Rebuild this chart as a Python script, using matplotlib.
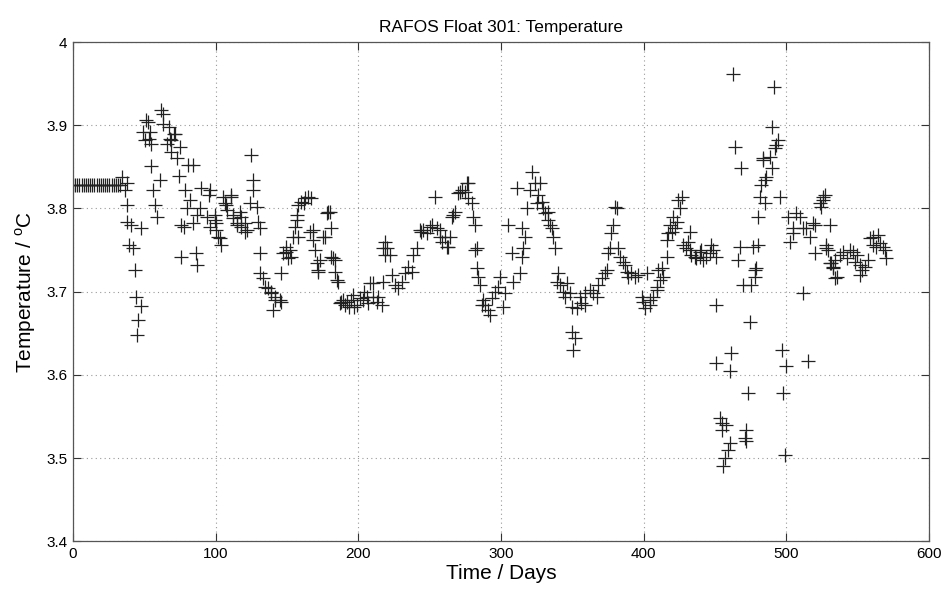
import numpy as np
import matplotlib
matplotlib.use("Agg")
import matplotlib.pyplot as plt
from matplotlib.ticker import FuncFormatter

#%% datos (dias, temperatura)
dias_ini = [0, 1.5, 3, 4.5, 6, 7.5, 9, 10.5, 12, 13.5, 15, 16.5, 18, 19.5, 21, 22.5,
            24, 25.5, 27, 28.5, 30, 31.5, 33]
temp_ini = [3.828, 3.828, 3.828, 3.828, 3.828, 3.828, 3.828, 3.828, 3.828, 3.828, 3.828,
            3.828, 3.828, 3.828, 3.828, 3.828, 3.828, 3.828, 3.828, 3.828, 3.828, 3.828, 3.828]

dias_1 = [34, 36.4, 37.6, 37.6, 38, 39.5, 41, 42, 43.5, 44, 45, 45.8, 47.4, 48, 49.3, 50.5,
          51.5, 52.8, 53, 54, 55, 55, 56, 57.5, 58.6, 61, 62, 63, 63, 65.6, 67, 68, 69, 69,
          70.5, 71.5, 72.6, 74.5, 75, 76, 76, 78, 78.5, 79.6, 80.8, 82, 84.3, 84.3, 86, 86.7,
          86.7, 89, 90, 93.6, 95, 96, 96, 99.5, 99.5, 100.5, 100.5, 101.8, 103, 104, 105,
          106.5, 107.5, 107.6, 111, 111, 112, 112.3, 114.7, 114.7, 117, 118, 118, 120.5,
          120.5, 121.7, 124, 125, 126, 126.3, 128.7, 130, 131, 131, 131, 133, 134.5, 137,
          139, 139, 140, 141.5, 141.5, 145, 146, 146, 147, 149.6, 149.6, 151, 152, 153,
          154.4, 155.5, 156.7, 157, 158, 158, 160, 161.7, 162.5, 165, 166, 167, 168.4,
          168.4, 169.6, 170.7, 172, 172, 173, 175.4, 176.6, 177.7, 178.5, 180, 181, 181,
          182.4, 183.6, 183.6, 184.7, 185.9]
temp_1 = [3.838, 3.822, 3.830, 3.804, 3.784, 3.756, 3.780, 3.752, 3.726, 3.694, 3.648, 3.666,
          3.683, 3.776, 3.892, 3.882, 3.906, 3.904, 3.884, 3.892, 3.878, 3.851, 3.822, 3.804,
          3.790, 3.834, 3.918, 3.914, 3.902, 3.878, 3.898, 3.884, 3.868, 3.882, 3.890, 3.890,
          3.860, 3.839, 3.874, 3.780, 3.742, 3.778, 3.822, 3.800, 3.852, 3.810, 3.852, 3.782,
          3.746, 3.732, 3.792, 3.800, 3.824, 3.790, 3.816, 3.822, 3.778, 3.786, 3.792, 3.774,
          3.782, 3.766, 3.764, 3.756, 3.814, 3.806, 3.804, 3.798, 3.814, 3.816, 3.792, 3.788,
          3.780, 3.782, 3.796, 3.790, 3.778, 3.782, 3.772, 3.774, 3.806, 3.864, 3.834, 3.822,
          3.802, 3.784, 3.776, 3.746, 3.722, 3.716, 3.706, 3.704, 3.698, 3.700, 3.678, 3.694,
          3.690, 3.690, 3.688, 3.722, 3.746, 3.754, 3.748, 3.740, 3.750, 3.742, 3.766, 3.778,
          3.786, 3.792, 3.804, 3.766, 3.808, 3.806, 3.812, 3.814, 3.772, 3.812, 3.774, 3.762,
          3.750, 3.734, 3.726, 3.724, 3.738, 3.766, 3.766, 3.794, 3.796, 3.796, 3.776, 3.742,
          3.740, 3.738, 3.724, 3.714, 3.712]

dias_2 = [187, 188, 189, 190.5, 192, 193.5, 195, 196.5, 197, 199, 201, 203, 204, 205.8, 207,
          208, 210.4, 210.4, 212.8, 214, 216.3, 217.5, 217.5, 218.6, 218.6, 219.8, 222, 223.3,
          225.6, 228, 230.3, 232.7, 235, 237.4, 238.5, 240.8, 243.2, 244, 245.5, 247.8, 250.2,
          251.4, 253.7, 254.8, 257, 257, 258.3, 260.7, 261.8, 263, 264.2, 265.4, 266.5, 267.7,
          270, 271, 272.4, 274.7, 275.9, 277, 277, 279.4, 280.5, 281.7, 281.7, 282.9, 282.9,
          284, 285.2, 286.4, 287.5, 288.7, 291, 292.2, 293.4, 295.7, 298, 299.2, 301.6, 302.7,
          305, 307.4, 308.6, 311, 313, 314.4, 314.4, 315.6, 316.7, 318, 320.3, 321.4, 323.8,
          325, 326, 327.3, 328.4, 329.5, 330.7, 333, 333, 334.3, 335.4, 336.6, 337.8, 339, 340,
          341.3, 343.6, 344.8, 346, 348.3, 349.5, 349.5, 350.6, 351.8, 353, 355.3, 356.4, 358.8,
          358.8, 362.3, 364.6, 367, 368.2, 370.5, 372.8, 374, 375.2, 376.3, 377.4, 378.6, 379.8,
          381, 382.2, 383.3, 385.6, 386.8, 388, 389, 391.4, 393.8, 396, 398.5, 399.7, 400.8, 402]
temp_2 = [3.686, 3.688, 3.690, 3.684, 3.688, 3.682, 3.690, 3.696, 3.682, 3.684, 3.692, 3.690,
          3.700, 3.694, 3.686, 3.710, 3.694, 3.710, 3.688, 3.694, 3.684, 3.712, 3.752, 3.760,
          3.744, 3.752, 3.744, 3.720, 3.708, 3.704, 3.712, 3.722, 3.730, 3.724, 3.744, 3.752,
          3.774, 3.772, 3.774, 3.770, 3.778, 3.780, 3.814, 3.776, 3.774, 3.766, 3.760, 3.766,
          3.754, 3.754, 3.766, 3.790, 3.792, 3.796, 3.818, 3.820, 3.822, 3.820, 3.830, 3.812,
          3.830, 3.806, 3.790, 3.780, 3.750, 3.752, 3.728, 3.718, 3.708, 3.684, 3.690, 3.684,
          3.678, 3.672, 3.692, 3.700, 3.706, 3.718, 3.682, 3.698, 3.780, 3.746, 3.712, 3.824,
          3.722, 3.776, 3.742, 3.752, 3.766, 3.800, 3.822, 3.844, 3.830, 3.806, 3.816, 3.830,
          3.808, 3.800, 3.794, 3.796, 3.786, 3.780, 3.776, 3.766, 3.752, 3.712, 3.722, 3.708,
          3.700, 3.694, 3.710, 3.698, 3.682, 3.652, 3.630, 3.644, 3.680, 3.694, 3.686, 3.684,
          3.698, 3.702, 3.698, 3.694, 3.708, 3.716, 3.722, 3.726, 3.746, 3.752, 3.770, 3.780,
          3.802, 3.800, 3.752, 3.742, 3.736, 3.732, 3.724, 3.718, 3.722, 3.718, 3.720, 3.694,
          3.688, 3.680, 3.722]

dias_3 = [404.3, 404.3, 406.6, 409, 409, 410, 411.3, 412.5, 413.7, 416, 416, 417.2, 418.4,
          419.5, 420.7, 421.9, 423, 424.3, 425.4, 426.6, 427.7, 430, 431.2, 432.4, 432.4, 433.5,
          435.9, 437, 439.4, 439.4, 440.5, 441.7, 444, 446.4, 447.5, 448.7, 451, 451, 451,
          453.4, 454.6, 454.6, 455.7, 457, 458, 459.2, 460.4, 460.4, 461.5, 462.7, 464, 466.2,
          467.4, 468.5, 469.7, 470.9, 472, 472, 473, 474.4, 475.5, 476.7, 477.8, 477.8, 479,
          480.2, 480.2, 481.4, 482.5, 483.7, 483.7, 485, 485, 486, 488.4, 489.6, 489.6, 491.2,
          491.9, 493, 494.2, 495.5, 496.6, 497.8, 498.9, 500, 501, 502.4, 504.6, 504.6, 507,
          509.5, 511.6, 511.7, 514, 515.3, 516.4, 518.6, 519.8, 520, 523.5, 524.6, 525.8,
          525.8, 527, 528, 528, 529.3, 530.5, 530.5, 531.6, 532.8, 532.8, 534, 534, 535.2,
          537.5, 539.8, 542.2, 544.5, 546.8, 548, 549.2, 551.5, 551.5, 552.7, 555, 557.3,
          558.5, 560.8, 560.8, 563, 564.3, 565.5, 567.7, 569, 570]
temp_3 = [3.690, 3.684, 3.694, 3.702, 3.706, 3.726, 3.714, 3.728, 3.718, 3.742, 3.762, 3.770,
          3.780, 3.772, 3.790, 3.776, 3.784, 3.810, 3.800, 3.814, 3.756, 3.752, 3.760, 3.772,
          3.750, 3.744, 3.742, 3.740, 3.742, 3.748, 3.750, 3.738, 3.742, 3.746, 3.756, 3.750,
          3.742, 3.684, 3.614, 3.548, 3.542, 3.534, 3.490, 3.500, 3.540, 3.510, 3.518, 3.604,
          3.626, 3.962, 3.874, 3.738, 3.754, 3.848, 3.708, 3.524, 3.534, 3.520, 3.578, 3.664,
          3.708, 3.754, 3.718, 3.726, 3.728, 3.756, 3.790, 3.814, 3.828, 3.860, 3.858, 3.834,
          3.806, 3.838, 3.862, 3.898, 3.848, 3.946, 3.872, 3.876, 3.882, 3.814, 3.630, 3.578,
          3.504, 3.611, 3.790, 3.760, 3.776, 3.770, 3.794, 3.790, 3.698, 3.776, 3.776, 3.616,
          3.766, 3.782, 3.780, 3.746, 3.806, 3.802, 3.810, 3.814, 3.816, 3.752, 3.756, 3.750,
          3.780, 3.734, 3.734, 3.728, 3.730, 3.716, 3.738, 3.718, 3.744, 3.748, 3.740, 3.750,
          3.748, 3.736, 3.744, 3.732, 3.720, 3.726, 3.730, 3.738, 3.764, 3.766, 3.756, 3.754,
          3.768, 3.758, 3.754, 3.750, 3.740]

dias = np.array(dias_ini + dias_1 + dias_2 + dias_3)
temp = np.array(temp_ini + temp_1 + temp_2 + temp_3)

#%% Grafico
plt.rcParams['font.family'] = ['Liberation Sans', 'DejaVu Sans']

fig = plt.figure(figsize=(9.48, 6), dpi=100)
ax = fig.add_axes([0.077, 0.098, 0.903, 0.832])

ax.plot(dias, temp, '+', color='#222222', markersize=9.5, markeredgewidth=0.9)

ax.set_xlim(0, 600)
ax.set_ylim(3.4, 4.0)
ax.set_xticks([0, 100, 200, 300, 400, 500, 600])
ax.set_yticks([3.4, 3.5, 3.6, 3.7, 3.8, 3.9, 4.0])
ax.xaxis.set_major_formatter(FuncFormatter(lambda v, p: '%g' % v))
ax.yaxis.set_major_formatter(FuncFormatter(lambda v, p: '%g' % round(v, 2)))

# grilla punteada tipo matlab
ax.grid(True, linestyle=(0, (1, 3)), color='#999999', linewidth=0.8)
ax.tick_params(direction='in', length=6, width=0.8, top=True, right=True,
               labelsize=11, color='#333333', pad=4)
for s in ax.spines.values():
    s.set_color('#555555')
    s.set_linewidth(0.9)

ax.set_title('RAFOS Float 301: Temperature', fontsize=12.5, pad=7)
ax.set_xlabel('Time / Days', fontsize=15, labelpad=2)
ax.set_ylabel(r'Temperature / $^\mathregular{o}$C', fontsize=15, labelpad=6)

plt.savefig('out.png', dpi=100)
